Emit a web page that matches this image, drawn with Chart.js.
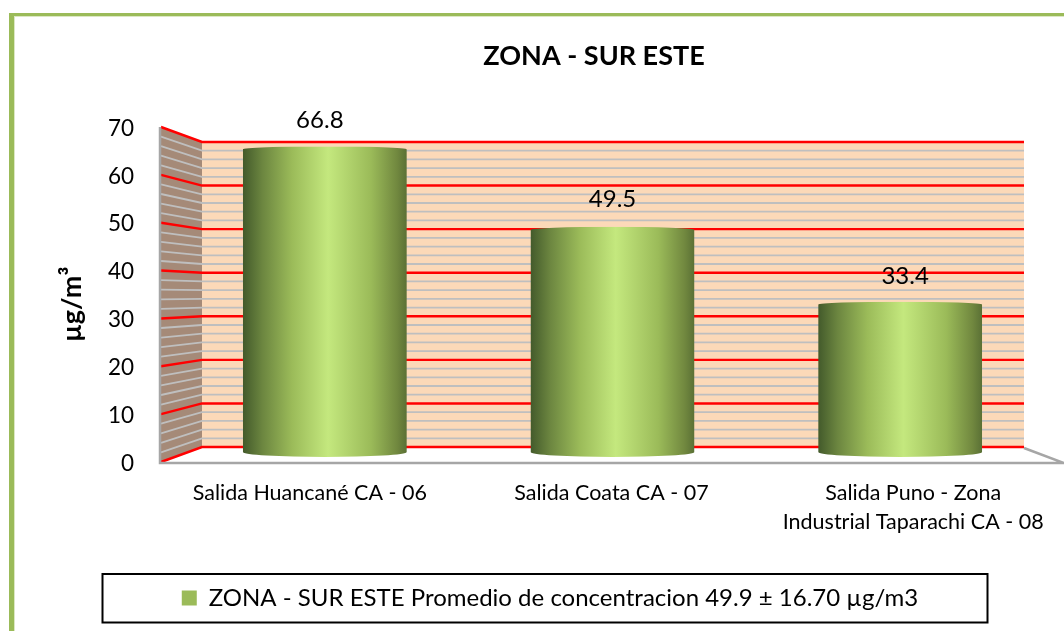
<!DOCTYPE html>
<html><head><meta charset="utf-8">
<style>html,body{margin:0;padding:0;background:#fff;overflow:hidden}canvas{display:block}</style>
<script src="https://cdn.jsdelivr.net/npm/chart.js@4/dist/chart.umd.js"></script>
</head><body>
<canvas id="c" width="1064" height="631"></canvas>
<script>
const categories = ['Salida Huancané CA - 06','Salida Coata CA - 07',['Salida Puno - Zona','Industrial Taparachi CA - 08']];
const values = [66.8, 49.5, 33.4];
const valueLabels = ['66.8','49.5','33.4'];
const labelNudgeX = [-5, 0, 5];
const labelNudgeY = [2, 0, 3];
const tickNudgeX = [-15, -1, 13];
const yTitle = 'µg/m³   ';
const chartTitle = 'ZONA - SUR ESTE';
const legendText = 'ZONA - SUR ESTE Promedio de concentracion 49.9 ± 16.70 µg/m3';
const FONT = 'Lato, Carlito, sans-serif';
const GREEN = '#9BBB59';

// 3-D box: the front plane spans the full chart area height, the back wall is inset
const wall = {depth: 21, backMin: -3.44, backMax: 73.44};
const CAP_TOP = 3, CAP_BOTTOM = 5;

const room = {
  id: 'room',
  beforeDraw(ch) {
    const c = ch.ctx;
    c.save();
    c.fillStyle = '#fff'; c.fillRect(0, 0, ch.width, ch.height);
    c.fillStyle = '#DCE8C4';
    c.fillRect(14, 16, 1, ch.height - 16);
    c.fillRect(14, 16, ch.width - 14, 1);
    c.fillStyle = GREEN;
    c.fillRect(9, 13, 5, ch.height - 13);
    c.fillRect(9, 13, ch.width - 9, 3);
    c.restore();
    // category labels sit on the front plane of the 3-D box, y ticks just below their gridline
    if (!ch.$nudged) {
      ch.scales.x.getLabelItems().forEach((it, i) => { it.options.translation[0] += tickNudgeX[i]; });
      ch.scales.y.getLabelItems().forEach(it => { it.options.translation[1] += 1.5; });
      ch.$nudged = true;
    }
  },
  beforeDatasetsDraw(ch) {
    const c = ch.ctx, a = ch.chartArea, f = ch.scales.y, b = ch.scales.yBack;
    const fl = a.left - wall.depth, bl = a.left + wall.depth, br = a.right - 20, fr = a.right + 20;
    const top = b.getPixelForValue(70), bot = b.getPixelForValue(0);
    c.save();
    // back wall
    c.fillStyle = '#FCD9B8';
    c.fillRect(bl, top, br - bl, bot - top);
    // side wall
    c.fillStyle = '#A58A78';
    c.beginPath();
    c.moveTo(fl, f.getPixelForValue(70)); c.lineTo(bl, top); c.lineTo(bl, bot); c.lineTo(fl, f.getPixelForValue(0));
    c.closePath(); c.fill();
    // grid lines
    for (const pass of ['minor', 'major']) {
      for (let v = 0; v <= 70; v += 2) {
        const major = v % 10 === 0;
        if ((pass === 'major') !== major) continue;
        c.strokeStyle = major ? '#FF0000' : '#BFBFBF';
        c.lineWidth = major ? 2.4 : 1.8;
        c.beginPath();
        c.moveTo(fl + 1, f.getPixelForValue(v));
        c.lineTo(bl, b.getPixelForValue(v));
        c.lineTo(br, b.getPixelForValue(v));
        c.stroke();
      }
    }
    // floor and corner edges
    c.strokeStyle = '#A6A6A6'; c.lineWidth = 2.5;
    c.beginPath(); c.moveTo(fl, f.getPixelForValue(70)); c.lineTo(fl, f.getPixelForValue(0) + 1); c.lineTo(fr, f.getPixelForValue(0) + 1); c.lineTo(br, bot + 1); c.stroke();
    c.restore();
  },
  beforeDatasetDraw(ch, args) {
    const c = ch.ctx, els = ch.getDatasetMeta(args.index).data;
    c.save();
    c.beginPath();
    els.forEach(e => {
      const hw = e.width / 2, sideTop = e.y + CAP_TOP, sideBot = e.base - CAP_BOTTOM;
      c.moveTo(e.x - hw, sideTop);
      c.ellipse(e.x, sideTop, hw, CAP_TOP, 0, Math.PI, 2 * Math.PI);
      c.lineTo(e.x + hw, sideBot);
      c.ellipse(e.x, sideBot, hw, CAP_BOTTOM, 0, 0, Math.PI);
      c.closePath();
    });
    c.clip();
  },
  afterDatasetDraw(ch) { ch.ctx.restore(); },
  afterDatasetsDraw(ch) {
    const c = ch.ctx, els = ch.getDatasetMeta(0).data;
    c.save();
    c.fillStyle = '#000';
    c.font = '24px ' + FONT;
    c.textAlign = 'center'; c.textBaseline = 'middle';
    els.forEach((e, i) => c.fillText(valueLabels[i], e.x + labelNudgeX[i], e.y - 28 + labelNudgeY[i]));
    // legend frame
    const l = ch.legend;
    c.strokeStyle = '#000'; c.lineWidth = 2;
    c.strokeRect(102.5, l.top - 2, 885, 48.5);
    c.restore();
  },
  afterLayout(ch) {
    // the title is centred over the plot as a whole, not over the axis box
    ch.titleBlock.left += 44; ch.titleBlock.right += 44;
  }
};

function cylinder(ctx) {
  const ch = ctx.chart, a = ch.chartArea;
  if (!a || ctx.type !== 'data') return GREEN;
  const x = ch.scales.x.getPixelForValue(ctx.dataIndex), hw = 82;
  const g = ch.ctx.createLinearGradient(x - hw, 0, x + hw, 0);
  g.addColorStop(0, '#435A2B');
  g.addColorStop(0.12, '#6C8640');
  g.addColorStop(0.3, '#9BBB59');
  g.addColorStop(0.52, '#C4E87E');
  g.addColorStop(0.78, '#9BBB59');
  g.addColorStop(0.94, '#71883F');
  g.addColorStop(1, '#5A7035');
  return g;
}

new Chart(document.getElementById('c'), {
  type: 'bar',
  data: {
    labels: categories,
    datasets: [{
      label: legendText,
      data: values,
      yAxisID: 'yBar',
      backgroundColor: cylinder,
      borderWidth: 0,
      barPercentage: 0.76,
      categoryPercentage: 0.75
    }]
  },
  plugins: [room],
  options: {
    responsive: false,
    animation: false,
    layout: {padding: {left: 56, right: 20, top: 0, bottom: 11}},
    plugins: {
      tooltip: {enabled: false},
      title: {
        display: true, text: chartTitle, color: '#000',
        font: {family: FONT, size: 27, weight: 'bold', lineHeight: 1.2},
        padding: {top: 40, bottom: 54.6}
      },
      legend: {
        position: 'bottom',
        labels: {
          color: '#000', font: {family: FONT, size: 24},
          boxWidth: 15, boxHeight: 15, padding: 10,
          generateLabels: ch => [{text: legendText, fillStyle: GREEN, strokeStyle: GREEN, lineWidth: 0, datasetIndex: 0, fontColor: '#000'}]
        },
        onClick: null
      }
    },
    scales: {
      x: {
        grid: {display: false}, border: {display: false},
        ticks: {color: '#000', font: {family: FONT, size: 21.5, lineHeight: 1.35}, padding: 9, maxRotation: 0, autoSkip: false},
        afterFit: s => { s.height = 114; }
      },
      y: {
        position: 'left', min: 0, max: 70,
        grid: {display: false}, border: {display: false},
        ticks: {stepSize: 10, color: '#000', font: {family: FONT, size: 22.5}, padding: 39},
        title: {display: true, text: yTitle, color: '#000', font: {family: FONT, size: 27, weight: 'bold'}, padding: {top: 0, bottom: 0}},
        afterFit: s => { s.width = 125; }
      },
      yBar: {display: false, min: -1.075, max: 70.97},
      yBack: {display: false, min: wall.backMin, max: wall.backMax}
    }
  }
});
</script>
</body></html>
